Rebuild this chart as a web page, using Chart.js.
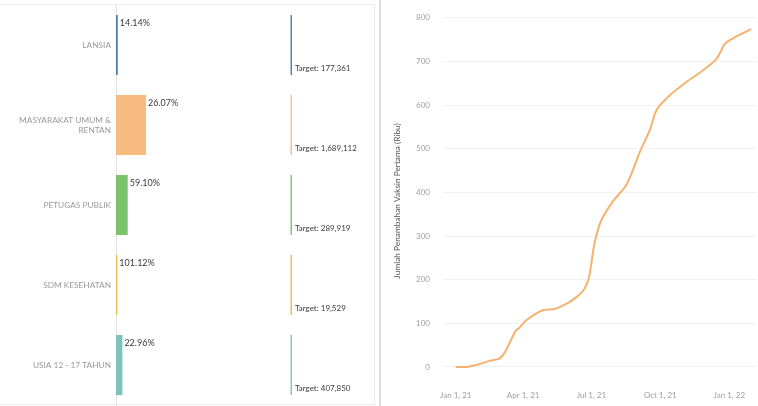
<!DOCTYPE html>
<html>
<head>
<meta charset="utf-8">
<script src="https://cdn.jsdelivr.net/npm/chart.js@4"></script>
<style>
  html, body { margin: 0; padding: 0; background: #fff; }
  #wrap { position: relative; width: 758px; height: 406px; overflow: hidden; }
  #leftBox { position: absolute; left: -1px; top: 4px; width: 374px; height: 399px; border: 1px solid #ececec; }
  #divider { position: absolute; left: 379px; top: 0; width: 2px; height: 406px; background: #dcdcdc; }
  #left { position: absolute; left: 0; top: 0; }
  #right { position: absolute; left: 382px; top: 0; }
</style>
</head>
<body>
<div id="wrap">
  <div id="leftBox"></div>
  <div id="divider"></div>
  <canvas id="left" width="374" height="406"></canvas>
  <canvas id="right" width="376" height="406"></canvas>
</div>
<script>
// left panel: target groups
const groups = ['LANSIA', ['MASYARAKAT UMUM &', 'RENTAN'], 'PETUGAS PUBLIK', 'SDM KESEHATAN', 'USIA 12 - 17 TAHUN'];
const percents = [14.14, 26.07, 59.10, 101.12, 22.96];
const targets = [177361, 1689112, 289919, 19529, 407850];
const achieved = [25079, 440350, 171342, 19748, 93642];
const groupColors = ['#4e79a7', '#f7bb80', '#7cc46c', '#e2bd4f', '#80c1bb'];

// right panel: cumulative first-dose additions (thousands)
const dates = ['2021-01-01', '2021-01-15', '2021-02-02', '2021-02-15', '2021-02-28', '2021-03-08',
  '2021-03-22', '2021-03-27', '2021-04-05', '2021-04-27', '2021-05-13', '2021-05-29', '2021-06-11',
  '2021-06-21', '2021-06-28', '2021-07-05', '2021-07-14', '2021-07-30', '2021-08-17', '2021-09-04',
  '2021-09-17', '2021-09-26', '2021-10-14', '2021-11-05', '2021-11-27', '2021-12-15', '2021-12-26',
  '2022-01-06', '2022-01-30'];
const firstDose = [0, 0, 7, 14, 19, 35, 83, 90, 107, 130, 133, 145, 160, 177, 206, 282, 335, 380,
  418, 494, 543, 589, 623, 653, 680, 706, 740, 753, 774];
const dateTicks = ['2021-01-01', '2021-04-01', '2021-07-01', '2021-10-01', '2022-01-01'];

const FONT = 'Lato, "Open Sans", sans-serif';
const MONTHS = ['Jan', 'Feb', 'Mar', 'Apr', 'May', 'Jun', 'Jul', 'Aug', 'Sep', 'Oct', 'Nov', 'Dec'];
const day0 = Date.UTC(2021, 0, 1);
function toDay(s) {
  const p = s.split('-').map(Number);
  return (Date.UTC(p[0], p[1] - 1, p[2]) - day0) / 86400000;
}
function dayLabel(d) {
  const dt = new Date(day0 + d * 86400000);
  return MONTHS[dt.getUTCMonth()] + ' ' + dt.getUTCDate() + ', ' + String(dt.getUTCFullYear()).slice(2);
}

const barLabels = {
  id: 'barLabels',
  afterDatasetsDraw(chart) {
    const c = chart.ctx;
    const bars = chart.getDatasetMeta(0).data;
    const lines = chart.getDatasetMeta(1).data;
    c.save();
    c.fillStyle = '#3a3a3a';
    c.textBaseline = 'middle';
    c.textAlign = 'left';
    bars.forEach((b, i) => {
      const top = b.y - b.height / 2;
      c.font = '9px ' + FONT;
      c.fillText(percents[i].toFixed(2) + '%', b.x + 2, top + 8);
      const l = lines[i];
      c.font = '8px ' + FONT;
      c.fillText('Target: ' + targets[i].toLocaleString('en-US'), l.x + 3, top + b.height - 7);
    });
    c.restore();
  }
};

new Chart(document.getElementById('left'), {
  type: 'bar',
  data: {
    labels: groups,
    datasets: [
      {
        data: achieved,
        backgroundColor: groupColors,
        categoryPercentage: 0.75,
        barPercentage: 1,
        grouped: false,
        minBarLength: 1
      },
      {
        data: targets.map(() => [99.2, 100]),
        xAxisID: 'x2',
        backgroundColor: groupColors,
        categoryPercentage: 0.75,
        barPercentage: 1,
        grouped: false
      }
    ]
  },
  options: {
    indexAxis: 'y',
    responsive: false,
    animation: false,
    layout: { padding: { top: 5, bottom: 1, right: 2 } },
    plugins: { legend: { display: false }, tooltip: { enabled: false } },
    scales: {
      x: { display: false, min: 0, max: 3750000 },
      x2: { display: false, min: 0, max: 145.5 },
      y: {
        afterFit(s) { s.width = 116; s.paddingTop = 0; s.paddingBottom = 0; },
        grid: { display: false, drawTicks: false },
        border: { display: true, color: '#e3e3e3' },
        ticks: { color: '#9a9a9a', padding: 5, font: { family: FONT, size: 8.3 } }
      }
    }
  },
  plugins: [barLabels]
});

new Chart(document.getElementById('right'), {
  type: 'line',
  data: {
    datasets: [{
      data: dates.map((d, i) => ({ x: toDay(d), y: firstDose[i] })),
      borderColor: '#f6b26e',
      borderWidth: 2,
      pointRadius: 0,
      tension: 0.25,
      fill: false
    }]
  },
  options: {
    responsive: false,
    animation: false,
    layout: { padding: { top: 15, right: 1 } },
    plugins: { legend: { display: false }, tooltip: { enabled: false } },
    scales: {
      x: {
        type: 'linear',
        min: -17,
        max: 402,
        afterBuildTicks(s) { s.ticks = dateTicks.map(d => ({ value: toDay(d) })); },
        afterFit(s) { s.height = 22; },
        grid: { display: false, drawTicks: false },
        border: { display: false },
        ticks: {
          color: '#a0a0a0', padding: 7, maxRotation: 0, autoSkip: false,
          font: { family: FONT, size: 8 },
          callback: v => dayLabel(v)
        }
      },
      y: {
        min: -39,
        max: 800,
        afterBuildTicks(s) { s.ticks = [0, 100, 200, 300, 400, 500, 600, 700, 800].map(v => ({ value: v })); },
        afterFit(s) { s.width = 61; },
        grid: { color: '#f1f1f1', drawTicks: false },
        border: { display: false },
        ticks: { color: '#a0a0a0', padding: 13, font: { family: FONT, size: 8 } },
        title: {
          display: true,
          text: 'Jumlah Penambahan Vaksin Pertama (Ribu)',
          color: '#555',
          font: { family: FONT, size: 8.3 },
          padding: { top: 10, bottom: 0 }
        }
      }
    }
  }
});
</script>
</body>
</html>
